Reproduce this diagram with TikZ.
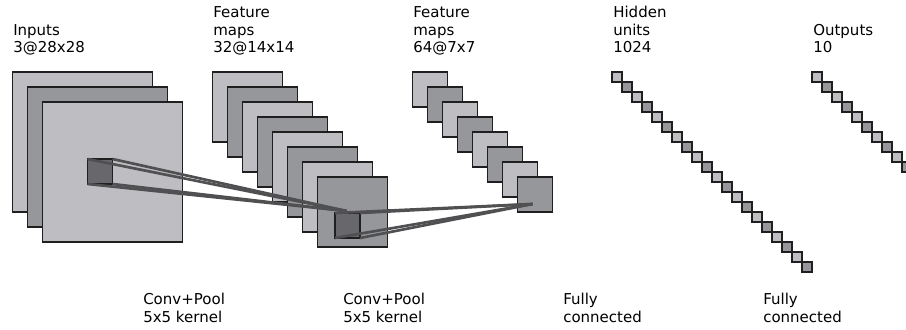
\documentclass[tikz,border=0pt]{standalone}
\usepackage{fontspec}
\setmainfont{DejaVu Sans}
\definecolor{maplight}{RGB}{190,190,194}
\definecolor{mapmid}{RGB}{150,151,155}
\definecolor{kerndark}{RGB}{104,104,108}
\definecolor{linkgray}{RGB}{80,80,82}
\begin{document}
\begin{tikzpicture}[x=0.75pt,y=-0.75pt,
	fmap/.style={draw=black!88,line width=1.3pt,anchor=north west,inner sep=0,outer sep=0},
	link/.style={draw=linkgray,line width=2pt},
	txt/.style={anchor=base west,align=left,inner sep=0,font=\fontsize{11.25}{13}\selectfont}]
	\useasboundingbox (0,0) rectangle (906,329);
	% stacks of maps, light and mid grey in turn
	\foreach \i in {0,...,2}{\ifodd\i\def\c{mapmid}\else\def\c{maplight}\fi
		\node[fmap,fill=\c,minimum size=105pt] (in\i) at (12.5+15*\i,72+15*\i) {};}
	\foreach \i in {0,...,7}{\ifodd\i\def\c{mapmid}\else\def\c{maplight}\fi
		\node[fmap,fill=\c,minimum size=52.5pt] (fa\i) at (212.5+15*\i,72+15*\i) {};}
	\foreach \i in {0,...,7}{\ifodd\i\def\c{mapmid}\else\def\c{maplight}\fi
		\node[fmap,fill=\c,minimum size=26.25pt] (fb\i) at (412.5+15*\i,72+15*\i) {};}
	\foreach \i in {0,...,19}{\ifodd\i\def\c{mapmid}\else\def\c{maplight}\fi
		\node[fmap,fill=\c,minimum size=7.5pt] (hid\i) at (612+10*\i,72+10*\i) {};}
	\foreach \i in {0,...,9}{\ifodd\i\def\c{mapmid}\else\def\c{maplight}\fi
		\node[fmap,fill=\c,minimum size=7.5pt] (out\i) at (812+10*\i,72+10*\i) {};}
	% kernels and their mapping lines
	\node[fmap,fill=kerndark,minimum size=18.75pt] (k1) at (87.5,159) {};
	\node[fmap,fill=kerndark,minimum size=18.75pt] (k2) at (335,213) {};
	\coordinate (e1) at (346.5,211);
	\coordinate (e2) at (532.5,204);
	\foreach \a in {north west,north east,south west,south east}{
		\draw[link] (k1.\a) -- (e1);
		\draw[link] (k2.\a) -- (e2);}
	% labels, placed by the baseline of their last line
	\node[txt] (tin) at (13,52.5) {Inputs\\3@28x28};
	\node[txt] (tfa) at (213,52.5) {Feature\\maps\\32@14x14};
	\node[txt] (tfb) at (413,52.5) {Feature\\maps\\64@7x7};
	\node[txt] (thid) at (613,52.5) {Hidden\\units\\1024};
	\node[txt] (tout) at (813,52.5) {Outputs\\10};
	\node[txt] (c1) at (143,322) {Conv+Pool\\5x5 kernel};
	\node[txt] (c2) at (343,322) {Conv+Pool\\5x5 kernel};
	\node[txt] (fc1) at (563,322) {Fully\\connected};
	\node[txt] (fc2) at (763,322) {Fully\\connected};
\end{tikzpicture}
\end{document}
